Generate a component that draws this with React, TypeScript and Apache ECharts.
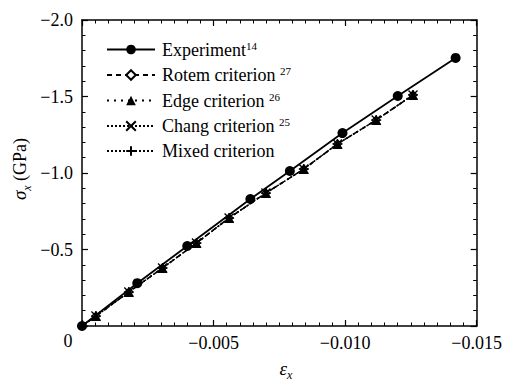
import React, { useEffect, useRef } from "react";
import * as echarts from "echarts";

// Experiment (circles)
const experimentStrain = [0, -0.0021, -0.004, -0.0064, -0.0079, -0.0099, -0.012, -0.0142];
const experimentStress = [0, -0.28, -0.523, -0.83, -1.013, -1.261, -1.503, -1.752];

// Criteria (overlapping)
const modelStrain = [0, -0.00053, -0.00178, -0.00306, -0.00435, -0.00559, -0.00699, -0.00843, -0.00971, -0.01118, -0.01258];
const rotemStress = [0, -0.065, -0.222, -0.379, -0.542, -0.706, -0.869, -1.026, -1.19, -1.346, -1.51];
const edgeStress = [0, -0.065, -0.222, -0.379, -0.542, -0.706, -0.869, -1.026, -1.19, -1.346, -1.51];
const changStress = [0, -0.065, -0.222, -0.379, -0.542, -0.706, -0.869, -1.026, -1.19, -1.346, -1.51];
const mixedStress = [0, -0.065, -0.222, -0.379, -0.542, -0.706, -0.869, -1.026, -1.19, -1.346, -1.51];

const seriesNames = ["Experiment", "Rotem criterion", "Edge criterion", "Chang criterion", "Mixed criterion"];
const seriesRefs = ["14", "27", "26", "25", ""];

const xTicks = { min: -0.015, max: 0, interval: 0.005 };
const yTicks = { min: -2.0, max: 0, interval: 0.5 };

const FONT = "'Liberation Serif', 'Times New Roman', serif";

function pairs(xs: number[], ys: number[], hideFirst: boolean) {
  return xs.map((x, i) =>
    hideFirst && i === 0 ? { value: [x, ys[i]], symbol: "none" } : { value: [x, ys[i]] }
  );
}

export default function App() {
  const ref = useRef<HTMLDivElement>(null);
  useEffect(() => {
    if (!ref.current) return;
    const chart = echarts.init(ref.current, undefined, { renderer: "svg" });
    const axisLine = { show: true, onZero: false, lineStyle: { color: "#000", width: 1.5 } };
    const axisTick = { show: true, inside: true, length: 6, lineStyle: { color: "#000", width: 1.2 } };
    const minorTickX = { show: true, splitNumber: 10, length: 3.5, lineStyle: { color: "#000", width: 1 } };
    const minorTickY = { show: true, splitNumber: 5, length: 3.5, lineStyle: { color: "#000", width: 1 } };
    const labelStyle = { color: "#000", fontFamily: FONT, fontSize: 18 };
    const xBase = {
      type: "value",
      min: xTicks.min,
      max: xTicks.max,
      interval: xTicks.interval,
      inverse: true,
      axisLine,
      axisTick,
      minorTick: minorTickX,
      splitLine: { show: false },
      minorSplitLine: { show: false },
    };
    const yBase = {
      type: "value",
      min: yTicks.min,
      max: yTicks.max,
      interval: yTicks.interval,
      inverse: true,
      axisLine,
      axisTick,
      minorTick: minorTickY,
      splitLine: { show: false },
      minorSplitLine: { show: false },
    };
    const common = { type: "line", animation: false, z: 2 };
    const option: any = {
      animation: false,
      backgroundColor: "#fff",
      textStyle: { fontFamily: FONT },
      grid: { left: 82, right: 26, top: 20, bottom: 56 },
      xAxis: [
        {
          ...xBase,
          position: "bottom",
          axisLabel: {
            ...labelStyle,
            margin: 8,
            formatter: (v: number) => (Math.abs(v) < 1e-9 ? "" : "\u2212" + Math.abs(v).toFixed(3)),
          },
        },
        { ...xBase, position: "top", axisLabel: { show: false } },
      ],
      yAxis: [
        {
          ...yBase,
          position: "left",
          axisLabel: {
            ...labelStyle,
            margin: 9,
            formatter: (v: number) => (Math.abs(v) < 1e-9 ? "" : "\u2212" + Math.abs(v).toFixed(1)),
          },
        },
        { ...yBase, position: "right", axisLabel: { show: false } },
      ],
      legend: {
        orient: "vertical",
        left: 101,
        top: 35,
        itemWidth: 48,
        itemHeight: 12,
        itemGap: 7,
        data: seriesNames,
        formatter: (name: string) => {
          const i = seriesNames.indexOf(name);
          const r = seriesRefs[i];
          if (!r) return name;
          return i === 0 ? `${name}{sup|${r}}` : `${name} {sup|${r}}`;
        },
        textStyle: {
          color: "#000",
          fontFamily: FONT,
          fontSize: 18,
          padding: [0, 0, 0, 2],
          rich: {
            sup: { fontFamily: FONT, fontSize: 11, color: "#000", verticalAlign: "top", padding: [0, 0, 8, 0] },
          },
        },
      },
      graphic: [
        {
          type: "text",
          x: 68,
          y: 341,
          style: { text: "0", fontFamily: FONT, fontSize: 18, fill: "#000", align: "center", verticalAlign: "middle" },
        },
        {
          type: "text",
          x: 18,
          y: 169,
          rotation: Math.PI / 2,
          style: {
            text: "{g|\u03c3}{s|x}{t| (GPa)}",
            align: "center",
            verticalAlign: "middle",
            rich: {
              g: { fontFamily: FONT, fontSize: 19, fontStyle: "italic", fill: "#000", lineHeight: 22, verticalAlign: "bottom" },
              s: { fontFamily: FONT, fontSize: 12, fontStyle: "italic", fill: "#000", lineHeight: 22, verticalAlign: "bottom", padding: [0, 0, -4, 0] },
              t: { fontFamily: FONT, fontSize: 18, fill: "#000", lineHeight: 22, verticalAlign: "bottom" },
            },
          },
        },
        {
          type: "text",
          x: 286,
          y: 368,
          style: {
            text: "{g|\u03b5}{s|x}",
            align: "center",
            verticalAlign: "middle",
            rich: {
              g: { fontFamily: FONT, fontSize: 19, fontStyle: "italic", fill: "#000", lineHeight: 20, verticalAlign: "bottom" },
              s: { fontFamily: FONT, fontSize: 12, fontStyle: "italic", fill: "#000", lineHeight: 20, verticalAlign: "bottom", padding: [0, 0, -3, 0] },
            },
          },
        },
      ],
      series: [
        {
          ...common,
          name: seriesNames[0],
          data: pairs(experimentStrain, experimentStress, false),
          symbol: "circle",
          symbolSize: 10,
          itemStyle: { color: "#000" },
          lineStyle: { color: "#000", width: 1.8, type: "solid" },
          z: 3,
        },
        {
          ...common,
          name: seriesNames[1],
          data: pairs(modelStrain, rotemStress, true),
          symbol: "diamond",
          symbolSize: 8,
          itemStyle: { color: "#fff", borderColor: "#000", borderWidth: 1.2 },
          lineStyle: { color: "#000", width: 1.6, type: [5, 4] },
        },
        {
          ...common,
          name: seriesNames[2],
          data: pairs(modelStrain, edgeStress, true),
          symbol: "triangle",
          symbolSize: 10,
          itemStyle: { color: "#000" },
          lineStyle: { color: "#000", width: 1.4, type: [2, 5] },
        },
        {
          ...common,
          name: seriesNames[3],
          data: pairs(modelStrain, changStress, true),
          symbol: "path://M0,0L10,10M10,0L0,10",
          symbolSize: 9,
          itemStyle: { color: "none", borderColor: "#000", borderWidth: 1.3 },
          lineStyle: { color: "#000", width: 1.3, type: [2, 2] },
        },
        {
          ...common,
          name: seriesNames[4],
          data: pairs(modelStrain, mixedStress, true),
          symbol: "path://M5,0L5,10M0,5L10,5",
          symbolSize: 10,
          itemStyle: { color: "none", borderColor: "#000", borderWidth: 1.3 },
          lineStyle: { color: "#000", width: 1.3, type: [2, 2] },
        },
      ],
    };
    chart.setOption(option);
    return () => chart.dispose();
  }, []);
  return (
    <div
      ref={ref}
      style={{ position: "fixed", left: 0, top: 0, width: 505, height: 382 }}
    />
  );
}
